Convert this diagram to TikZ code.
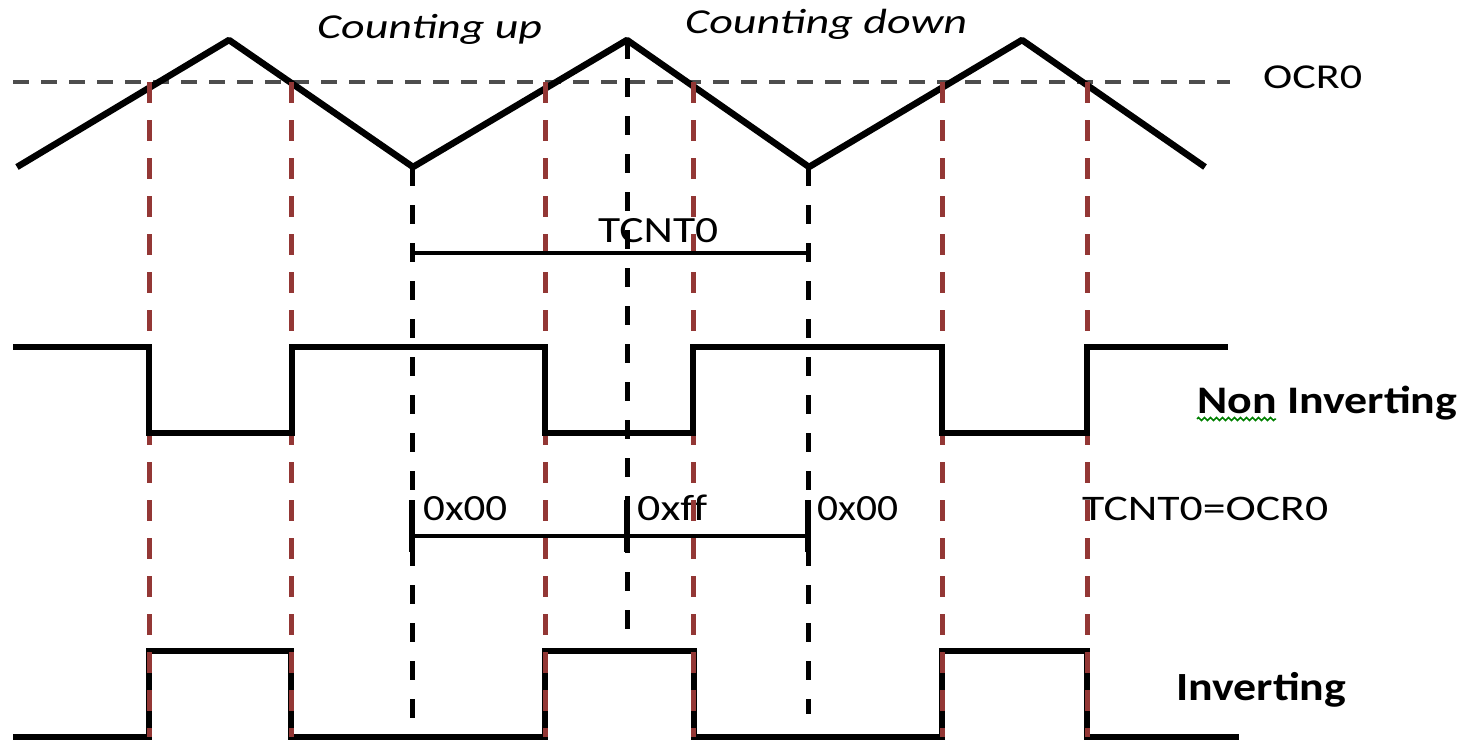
\documentclass[tikz,border=0pt]{standalone}
\usepackage{fontspec}
\setmainfont{Carlito}
\usepackage{graphicx}
\usetikzlibrary{decorations.pathmorphing}
% set a label to a given width, keeping its natural height
\newcommand{\wtext}[2]{\resizebox{#1}{\height}{#2}}
\definecolor{ocrred}{RGB}{147,55,53}
\definecolor{ocrgray}{RGB}{77,77,77}
\tikzset{
  lbl/.style={inner sep=0pt, anchor=base west, text=black},
  sz/.style={font=\fontsize{#1}{#1}\selectfont},
  ramp/.style={line width=6.5pt, line join=round, black},
  wave/.style={line width=6pt, line join=miter, black},
  levelline/.style={line width=3.5pt, ocrgray, dash pattern=on 16pt off 12pt},
  redmark/.style={line width=5pt, ocrred, dash pattern=on 21pt off 17pt},
  blackmark/.style={line width=5pt, black, dash pattern=on 19pt off 19pt},
  span/.style={line width=4.5pt, black},
  tick/.style={line width=5.5pt, black},
}
\begin{document}
\begin{tikzpicture}[x=1pt,y=-1pt]
\useasboundingbox (0,0) rectangle (1466,742);

% compare level and timer ramp
\draw[levelline] (13,82) coordinate (ocrL) -- (1230,82) coordinate (ocrR);
\draw[ramp] (17,167) -- (229,40) -- (413,167) -- (627,40) -- (809,167) -- (1022,40) -- (1205,167);

% labels
\node[lbl, sz=35] (cup) at (317,38) {\wtext{225pt}{\itshape Counting up}};
\node[lbl, sz=35] (cdown) at (685,33) {\wtext{282pt}{\itshape Counting down}};
\node[lbl, sz=35] (ocr) at (1263,88) {\wtext{99pt}{OCR0}};
\node[lbl, sz=37] (tcnt) at (598,242) {\wtext{120pt}{TCNT0}};
\node[lbl, sz=39] (noninv) at (1197,413) {\wtext{260pt}{\bfseries Non Inverting}};
\node[lbl, sz=37] (v0a) at (423,520) {\wtext{84pt}{0x00}};
\node[lbl, sz=37] (vff) at (637,520) {\wtext{70pt}{0xff}};
\node[lbl, sz=37] (v0b) at (817,520) {\wtext{81pt}{0x00}};
\node[lbl, sz=36] (match) at (1082,520) {\wtext{246pt}{TCNT0=OCR0}};
\node[lbl, sz=40] (inv) at (1176,700) {\wtext{170pt}{\bfseries Inverting}};
\draw[green!50!black, line width=1.5pt, decorate,
      decoration={zigzag, segment length=6pt, amplitude=1.5pt}]
  (1197,419) -- (1276,419);

% inverting output
\draw[wave] (13,737) -- (149,737) -- (149,651) -- (291,651) -- (291,737)
  -- (545,737) -- (545,651) -- (694,651) -- (694,737) -- (942,737)
  -- (942,651) -- (1087,651) -- (1087,737) -- (1239,737);

% compare-match markers
\foreach \x in {149,291,545,693,942,1087}
  \draw[redmark] (\x,82) -- (\x,737);

% non-inverting output
\draw[wave] (13,347) -- (149,347) -- (149,433) -- (292,433) -- (292,347)
  -- (545,347) -- (545,433) -- (693,433) -- (693,347) -- (942,347)
  -- (942,433) -- (1087,433) -- (1087,347) -- (1228,347);

% bottom, top and bottom of one period
\coordinate (b1) at (412,167);
\coordinate (tp) at (627,40);
\coordinate (b2) at (808,167);
\draw[blackmark] (b1) -- (412,718);
\draw[blackmark] (tp) -- (627,650);
\draw[blackmark] (b2) -- (808,714);

% period span
\draw[span] (412,253) coordinate (pL) -- (808,253) coordinate (pR);

% counter range span
\coordinate (s0) at (412,536);
\coordinate (s1) at (627,536);
\coordinate (s2) at (808,536);
\draw[span] (s0) -- (s2);
\foreach \c in {s0,s1,s2}
  \draw[tick] ([yshift=36pt]\c) -- ([yshift=-16pt]\c);
\end{tikzpicture}
\end{document}
